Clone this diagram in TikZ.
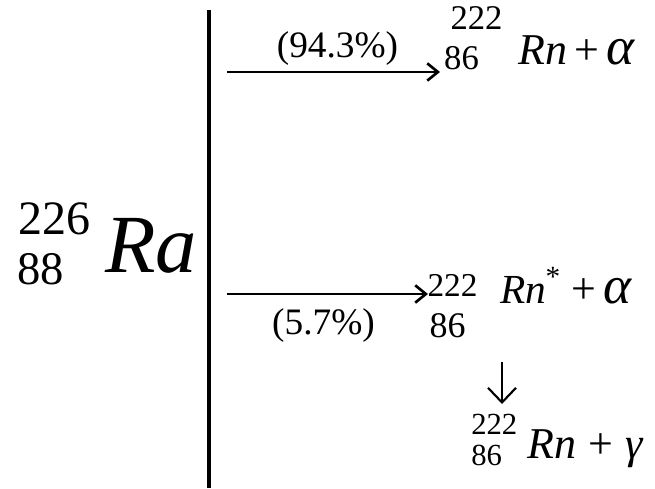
\documentclass[tikz,border=0pt]{standalone}
\usepackage{fontspec}
\setmainfont{Liberation Serif}
\usetikzlibrary{arrows.meta}
\newcommand{\bigalpha}{{\fontsize{40}{40}\selectfont\itshape α}}
\begin{document}
\begin{tikzpicture}[x=0.75pt,y=-0.75pt,>={Straight Barb[length=8pt,width=13pt]}]
	\tikzset{
		num/.style={inner sep=0, text height=#1*0.66pt, text depth=0pt, font=\fontsize{#1}{#1}\selectfont},
		ratio/.style={inner sep=0, font=\fontsize{#1}{#1}\selectfont},
		sym/.style={inner sep=0, anchor=base west, font=\fontsize{#1}{#1}\selectfont},
		branch/.style={->, line width=2pt},
	}
	\useasboundingbox (0,0) rectangle (655,488);
	% parent nucleus
	\node[num=36] (ramass) at (54,218.5) {226};
	\node[num=35] (raz) at (40.5,269) {88};
	\node[sym=62] (ra) at (105,272) {\itshape Ra};
	\coordinate (bartop) at (209,10);
	\coordinate (barbot) at (209,488);
	\draw[line width=2.4pt] (bartop) -- (barbot);
	% alpha branch to ground state
	\coordinate (alphas) at (227,72);
	\coordinate (alphae) at (440,72);
	\draw[branch] (alphas) -- (alphae);
	\node[ratio=28] (ratioa) at (337.5,49) {(94.3\%)};
	\node[num=26] (rnamass) at (476.5,18) {222};
	\node[num=26] (rnaz) at (461.5,58) {86};
	\node[sym=33] (rna) at (518,65) {\textit{Rn}\,+\,\bigalpha};
	% alpha branch to excited state
	\coordinate (exs) at (227,294);
	\coordinate (exe) at (428,294);
	\draw[branch] (exs) -- (exe);
	\node[ratio=28] (ratiob) at (323.5,326) {(5.7\%)};
	\node[num=25] (rnbmass) at (452.5,285) {222};
	\node[num=27] (rnbz) at (447.5,326) {86};
	\node[sym=31] (rnb) at (500,303) {\itshape Rn};
	\node[num=22] (star) at (553,277) {*};
	\node[sym=33] (plusb) at (571,303) {+\,\bigalpha};
	% gamma emission
	\coordinate (gams) at (502,362);
	\coordinate (game) at (502,404);
	\draw[->, line width=1.6pt, >={Straight Barb[length=11pt,width=21pt]}] (gams) -- (game);
	\node[num=23, anchor=west] (rncmass) at (471,424) {222};
	\node[num=23, anchor=west] (rncz) at (471,455) {86};
	\node[sym=33] (rnc) at (527,458) {\textit{Rn}\;+\;\textit{γ}};
\end{tikzpicture}
\end{document}
